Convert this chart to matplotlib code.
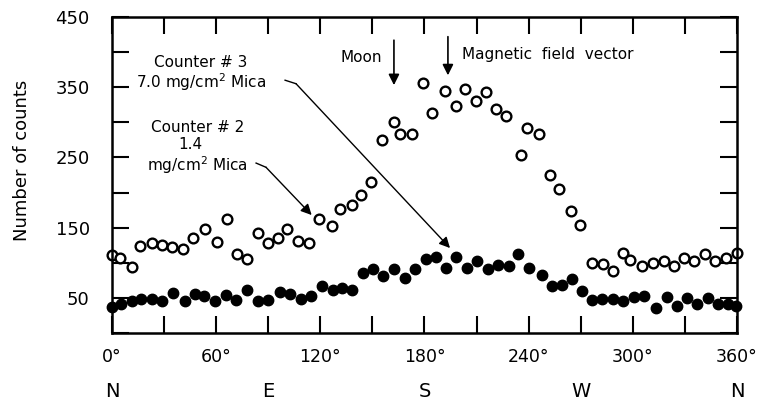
import numpy as np
import matplotlib
matplotlib.use("Agg")
import matplotlib.pyplot as plt
from matplotlib.ticker import MultipleLocator, FixedLocator

plt.rcParams['font.family'] = ['DejaVu Sans']

# Counter #3 (open circles): azimuth in degrees, counts
open_deg = [0, 4.6, 11.3, 16.1, 22.9, 29.0, 34.4, 41.1, 46.8, 53.6,
            60.3, 66.1, 72.2, 77.6, 83.9, 89.7, 95.4, 100.6, 107.3, 113.5,
            119.4, 126.6, 131.3, 138.1, 143.3, 149.0, 155.4, 162.4, 165.9, 172.6,
            179.3, 184.5, 191.8, 198.0, 203.3, 209.5, 215.3, 221.2, 226.8, 235.6,
            239.2, 246.1, 252.3, 257.5, 264.2, 269.6, 276.3, 282.7, 288.4, 294.5,
            298.4, 305.5, 311.8, 318.1, 323.9, 329.7, 335.4, 341.6, 347.4, 353.5,
            359.8]
open_cnt = [111, 107, 94, 124, 128, 125, 122, 119, 136, 148,
            129, 162, 112, 105, 143, 128, 135, 148, 131, 128,
            162, 153, 176, 182, 197, 215, 275, 301, 284, 283,
            356, 314, 344, 323, 347, 330, 343, 319, 309, 254,
            292, 283, 225, 205, 174, 154, 100, 98, 88, 114,
            104, 95, 99, 103, 95, 107, 102, 112, 103, 107,
            114]

# Counter #2 (filled circles)
fill_deg = [0, 5.0, 11.3, 16.5, 22.9, 28.6, 35.3, 42.1, 47.8, 53.0,
            59.3, 65.5, 71.4, 77.6, 83.9, 90.0, 96.8, 102.5, 108.9, 114.6,
            120.8, 127.1, 132.7, 138.1, 144.8, 150.5, 156.3, 162.4, 168.8, 174.5,
            180.7, 186.5, 192.4, 198.0, 204.3, 210.1, 216.8, 222.5, 228.7, 234.0,
            240.4, 247.5, 253.3, 259.0, 264.8, 270.6, 276.3, 282.1, 288.4, 294.5,
            300.9, 306.6, 313.4, 319.5, 325.3, 331.0, 337.2, 343.5, 349.2, 355.0,
            359.4]
fill_cnt = [37, 42, 46, 48, 49, 45, 57, 45, 56, 53,
            46, 54, 47, 61, 45, 47, 58, 56, 49, 53,
            67, 61, 64, 61, 85, 91, 81, 91, 79, 91,
            105, 108, 93, 108, 93, 102, 91, 97, 95, 113,
            93, 83, 67, 69, 77, 60, 47, 49, 48, 45,
            51, 52, 36, 51, 38, 50, 41, 50, 41, 41,
            38]

xtick_pos = [0, 60, 120, 180, 240, 300, 360]
xtick_lab = ['0°', '60°', '120°', '180°', '240°', '300°', '360°']
ytick_pos = [50, 150, 250, 350, 450]
compass_pos = [0, 90, 180, 270, 360]
compass_lab = ['N', 'E', 'S', 'W', 'N']

fig = plt.figure(figsize=(7.63, 4.08), dpi=100)
ax = fig.add_axes([0.1468, 0.1838, 0.8191, 0.7745])

ax.plot(open_deg, open_cnt, 'o', ms=7, mfc='white', mec='black', mew=1.7, ls='none', clip_on=False)
ax.plot(fill_deg, fill_cnt, 'o', ms=7.5, color='black', ls='none', clip_on=False)

ax.set_xlim(0, 360)
ax.set_ylim(0, 450)
ax.xaxis.set_major_locator(FixedLocator(xtick_pos))
ax.set_xticklabels(xtick_lab)
ax.xaxis.set_minor_locator(MultipleLocator(30))
ax.yaxis.set_major_locator(FixedLocator(ytick_pos))
ax.yaxis.set_minor_locator(MultipleLocator(50))
ax.tick_params(which='both', direction='in', length=12, width=1.5,
               top=True, right=True)
ax.tick_params(axis='x', labelsize=12.5, pad=11)
ax.tick_params(axis='y', labelsize=13, pad=16)
for s in ax.spines.values():
    s.set_linewidth(1.8)

ax.set_ylabel('Number of counts', fontsize=13)
ax.yaxis.set_label_coords(-0.13, 0.547)

for p, lab in zip(compass_pos, compass_lab):
    ax.text(p, -0.185, lab, transform=ax.get_xaxis_transform(), ha='center', va='center',
            fontsize=14)

fs = 11
# Counter #3 label and leader
ax.text(51, 385, 'Counter # 3', ha='center', va='center', fontsize=fs)
ax.text(51, 357, '7.0 mg/cm$^2$ Mica', ha='center', va='center', fontsize=fs)
ax.plot([99.7, 106], [360, 355], color='black', lw=1)
ax.annotate('', xy=(194.7, 121), xytext=(106, 355),
            arrowprops=dict(arrowstyle='-|>', color='black', lw=1, mutation_scale=16, shrinkA=0, shrinkB=0))

# Counter #2 label and leader
ax.text(49.5, 292, 'Counter # 2', ha='center', va='center', fontsize=fs)
ax.text(45, 268, '1.4', ha='center', va='center', fontsize=fs)
ax.text(49, 239, 'mg/cm$^2$ Mica', ha='center', va='center', fontsize=fs)
ax.plot([83, 88.7], [242, 236], color='black', lw=1)
ax.annotate('', xy=(115, 168), xytext=(88.7, 236),
            arrowprops=dict(arrowstyle='-|>', color='black', lw=1, mutation_scale=16, shrinkA=0, shrinkB=0))

# Moon and magnetic field arrows
ax.text(143.4, 393, 'Moon', ha='center', va='center', fontsize=fs)
ax.annotate('', xy=(162.4, 353), xytext=(162.4, 417),
            arrowprops=dict(arrowstyle='-|>', color='black', lw=1.2, mutation_scale=16, shrinkA=0, shrinkB=0))
ax.text(201.6, 396, 'Magnetic  field  vector', ha='left', va='center', fontsize=fs)
ax.annotate('', xy=(193.5, 367), xytext=(193.5, 422),
            arrowprops=dict(arrowstyle='-|>', color='black', lw=1.2, mutation_scale=16, shrinkA=0, shrinkB=0))

fig.savefig('out.png', dpi=100)
